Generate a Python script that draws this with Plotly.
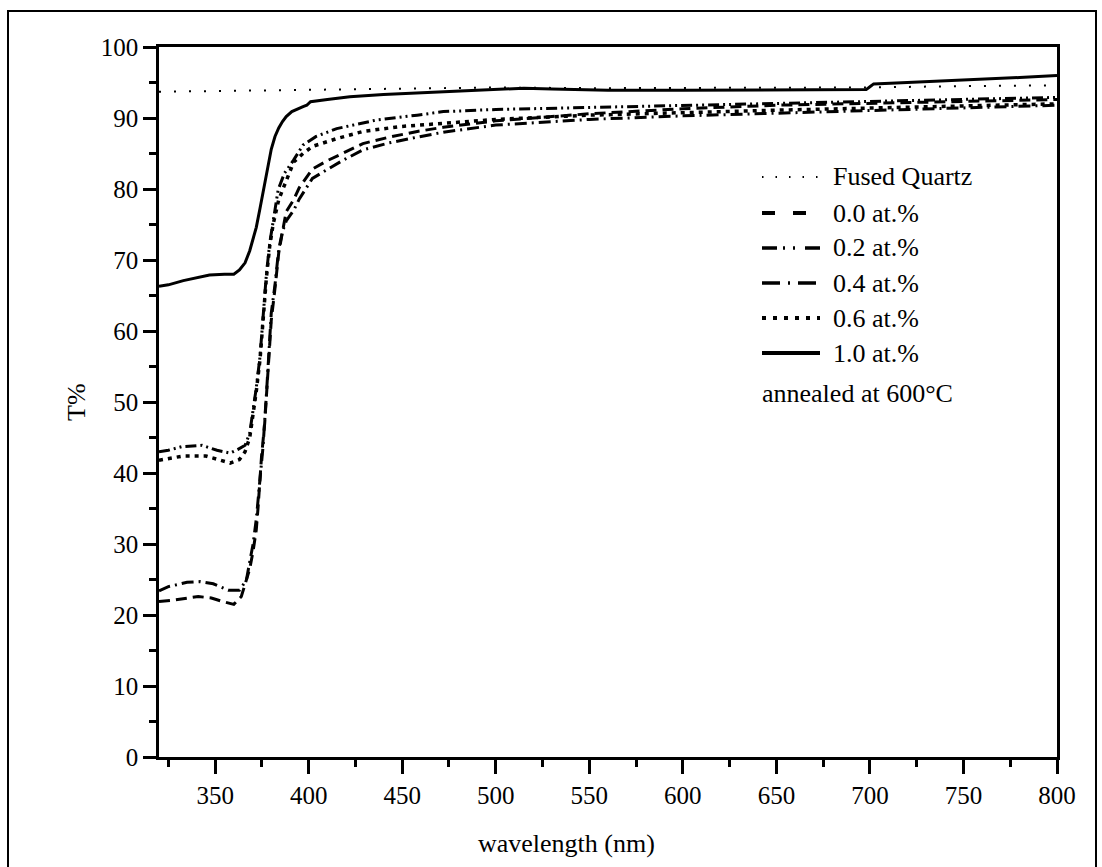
import plotly.graph_objects as go

# ---------------- data ----------------
quartz_wl = [320, 350, 400, 450, 500, 550, 600, 650, 700, 750, 800]
quartz_T = [93.7, 93.8, 94.0, 94.2, 94.3, 94.2, 94.2, 94.2, 94.3, 94.5, 94.6]

s00_wl = [320, 328, 341, 348, 354, 360, 364, 366, 368.5, 370.3, 372, 373, 373.9, 374.8, 376.5, 377.4,
          378.8, 380, 382, 384, 386, 388, 392, 395, 402, 410, 418, 429, 443, 458, 472, 500, 550, 600,
          650, 700, 750, 800]
s00_T = [21.9, 22.1, 22.6, 22.4, 21.9, 21.5, 22.6, 24.5, 26.5, 29.0, 32.0, 35.3, 39.0, 42.3, 47.0, 50.7,
         56.5, 61.5, 66.0, 71.0, 74.0, 76.8, 78.5, 80.2, 82.8, 84.0, 85.0, 86.4, 87.3, 88.1, 88.7, 89.6,
         90.6, 91.3, 91.8, 92.1, 92.3, 92.6]

s02_wl = [320, 325, 332, 343, 351, 358, 362, 366, 368.5, 370.3, 372, 374, 375.6, 377.4, 379.2, 381,
          383.7, 387, 392, 397, 404, 415, 436, 458, 472, 500, 550, 600, 650, 700, 750, 800]
s02_T = [43.0, 43.2, 43.7, 43.9, 43.2, 42.8, 43.3, 43.9, 45.6, 48.6, 52.0, 56.4, 62.0, 68.0, 72.4, 75.5,
         79.9, 82.2, 84.1, 86.2, 87.4, 88.5, 89.7, 90.4, 90.9, 91.2, 91.5, 91.8, 92.1, 92.3, 92.6, 92.9]

s04_wl = [320, 325, 335, 342, 349, 357, 363, 366.7, 368.5, 370.3, 372, 373.9, 375.6, 377.4, 378.8, 380,
          382, 384, 386, 388, 392, 395, 402, 410, 418, 429, 443, 458, 472, 500, 550, 600, 650, 700,
          750, 800]
s04_T = [23.4, 24.0, 24.6, 24.7, 24.4, 23.5, 23.5, 24.9, 27.5, 30.0, 33.5, 38.5, 43.7, 51.0, 57.0, 62.5,
         66.5, 71.5, 74.0, 75.5, 77.0, 78.6, 81.5, 82.8, 84.0, 85.5, 86.5, 87.3, 88.0, 89.0, 89.8, 90.3,
         90.7, 91.1, 91.5, 91.8]

s06_wl = [320, 325, 333, 345, 352, 358, 363, 366, 368.5, 370.3, 372, 374, 375.6, 377.4, 379.2, 381,
          384, 388, 392, 397, 402, 415, 429, 449, 468, 500, 550, 600, 650, 700, 750, 800]
s06_T = [41.8, 42.0, 42.4, 42.4, 41.9, 41.4, 41.9, 43.0, 45.0, 48.0, 51.5, 56.0, 61.5, 67.5, 72.0, 75.0,
         78.5, 81.0, 83.8, 85.0, 86.0, 87.1, 88.1, 88.8, 89.2, 89.8, 90.4, 90.8, 91.1, 91.4, 91.7, 92.0]

s10_wl = [320, 325, 333, 340, 347, 355, 360, 363, 366, 368.5, 370, 372, 374, 376, 378, 380, 382, 384,
          386, 388, 391, 394, 397, 399, 401, 410, 422, 440, 470, 500, 515, 530, 560, 600, 650, 698,
          700, 702, 720, 750, 780, 800]
s10_T = [66.3, 66.5, 67.1, 67.5, 67.9, 68.0, 68.0, 68.6, 69.6, 71.3, 72.6, 74.6, 77.3, 80.2, 83.0, 85.6,
         87.4, 88.6, 89.5, 90.2, 90.9, 91.3, 91.6, 91.8, 92.3, 92.6, 93.0, 93.3, 93.7, 94.1, 94.2, 94.1,
         93.9, 93.9, 93.9, 94.0, 94.4, 94.8, 95.0, 95.3, 95.7, 96.0]

series_names = ["Fused Quartz", "0.0 at.%", "0.2 at.%", "0.4 at.%", "0.6 at.%", "1.0 at.%"]
x_ticks = [350, 400, 450, 500, 550, 600, 650, 700, 750, 800]
y_ticks = [0, 10, 20, 30, 40, 50, 60, 70, 80, 90, 100]
note_text = "annealed at 600°C"
x_title = "wavelength (nm)"
y_title = "T%"

# ---------------- styling ----------------
FONT = "Liberation Serif"
W, H = 1102, 867
L, R, T, B = 159, 1057, 47, 757


def px(x):
    return (x - L) / (R - L)


def py(y):
    return (B - y) / (B - T)


plot_styles = [
    dict(width=2, dash="2px,13px"),
    dict(width=3, dash="11px,6px"),
    dict(width=3, dash="11px,4px,2px,4px,2px,4px"),
    dict(width=3, dash="12px,5px,2px,5px"),
    dict(width=3.5, dash="4px,5px"),
    dict(width=3, dash="solid"),
]
legend_styles = [
    dict(width=2, dash="1.5px,12px"),
    dict(width=4, dash="13px,18px"),
    dict(width=3.5, dash="15px,6px,2px,8px,2px,10px"),
    dict(width=3.5, dash="18px,8px,2px,8px"),
    dict(width=4, dash="4px,7px"),
    dict(width=4, dash="solid"),
]

data = [(quartz_wl, quartz_T), (s00_wl, s00_T), (s02_wl, s02_T),
        (s04_wl, s04_T), (s06_wl, s06_T), (s10_wl, s10_T)]

fig = go.Figure()
for (xs, ys), name, st in zip(data, series_names, plot_styles):
    fig.add_trace(go.Scatter(x=xs, y=ys, mode="lines", name=name, showlegend=False,
                             line=dict(color="black", width=st["width"], dash=st["dash"]),
                             hoverinfo="skip"))

shapes = []
annotations = []
# legend drawn by hand
leg_y = [177, 213, 248, 283, 318, 353]
for name, st, yy in zip(series_names, legend_styles, leg_y):
    shapes.append(dict(type="line", xref="paper", yref="paper",
                       x0=px(762), x1=px(820), y0=py(yy), y1=py(yy),
                       line=dict(color="black", width=st["width"], dash=st["dash"])))
    annotations.append(dict(text=name, xref="paper", yref="paper", x=px(831), y=py(yy),
                            xanchor="left", yanchor="middle", showarrow=False,
                            font=dict(family=FONT, size=26, color="black")))
annotations.append(dict(text=note_text, xref="paper", yref="paper", x=px(760), y=py(393),
                        xanchor="left", yanchor="middle", showarrow=False,
                        font=dict(family=FONT, size=26, color="black")))
# axis titles
annotations.append(dict(text=x_title, xref="paper", yref="paper", x=px(566), y=py(843),
                        xanchor="center", yanchor="middle", showarrow=False,
                        font=dict(family=FONT, size=26, color="black")))
annotations.append(dict(text=y_title, xref="paper", yref="paper", x=px(76), y=py(402),
                        xanchor="center", yanchor="middle", showarrow=False, textangle=-90,
                        font=dict(family=FONT, size=26, color="black")))

# outer frame of the figure
shapes.append(dict(type="rect", xref="paper", yref="paper",
                   x0=px(8), x1=px(1096), y0=py(890), y1=py(11),
                   line=dict(color="black", width=2), fillcolor="rgba(0,0,0,0)", layer="below"))

axis_common = dict(showgrid=False, zeroline=False, showline=True, linecolor="black", linewidth=2.5,
                   mirror=True, ticks="outside", tickcolor="black", tickwidth=2.5,
                   tickfont=dict(family=FONT, size=25, color="black"))

fig.update_layout(
    width=W, height=H,
    font=dict(family=FONT, color="black"),
    margin=dict(l=L, r=W - R, t=T, b=H - B, pad=0),
    paper_bgcolor="white", plot_bgcolor="white",
    showlegend=False,
    xaxis=dict(range=[320, 800], tickvals=x_ticks, ticklen=14,
               minor=dict(tickvals=[325, 375, 425, 475, 525, 575, 625, 675, 725, 775],
                          ticklen=7, tickwidth=2.5, tickcolor="black", ticks="outside"),
               **axis_common),
    yaxis=dict(range=[0, 100], tickvals=y_ticks, ticklen=13,
               minor=dict(tickvals=[5, 15, 25, 35, 45, 55, 65, 75, 85, 95],
                          ticklen=7, tickwidth=2.5, tickcolor="black", ticks="outside"),
               **axis_common),
    shapes=shapes,
    annotations=annotations,
)

fig.write_html("out.html")
